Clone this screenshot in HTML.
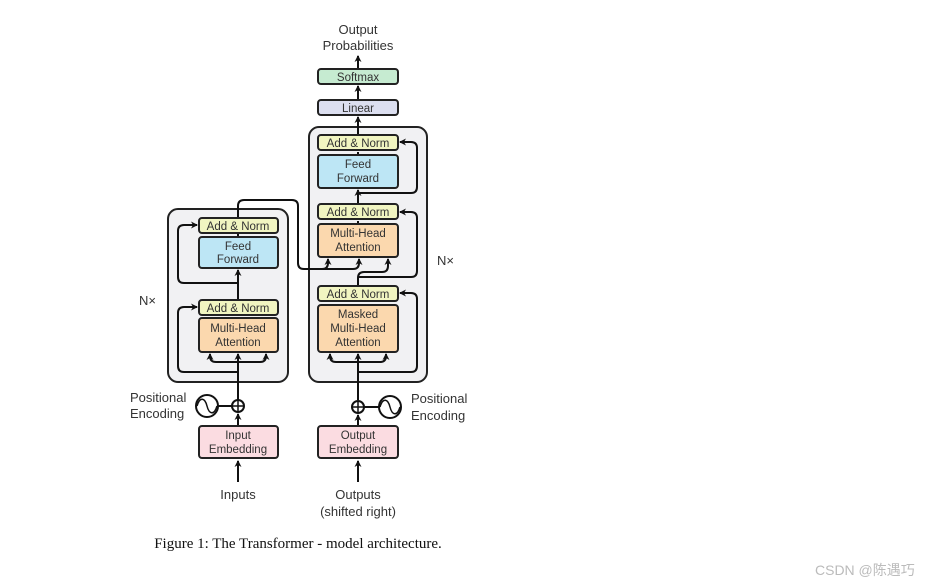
<!DOCTYPE html>
<html><head><meta charset="utf-8"><style>
body{margin:0;background:#fff;}
svg{display:block;}
text{font-family:"Liberation Sans",sans-serif;fill:#333;}
</style></head><body>
<svg width="937" height="584" viewBox="0 0 937 584" xmlns="http://www.w3.org/2000/svg">
<defs>
<marker id="a" markerWidth="8" markerHeight="8" refX="6" refY="4" orient="auto" markerUnits="userSpaceOnUse">
<path d="M0,0.5 L7,4 L0,7.5 L2,4 Z" fill="#111"/>
</marker>
</defs>
<rect width="937" height="584" fill="#fff"/>
<rect x="168" y="209" width="120" height="173" rx="10" fill="#f1f1f3" stroke="#222" stroke-width="2"/>
<rect x="309" y="127" width="118" height="255" rx="10" fill="#f1f1f3" stroke="#222" stroke-width="2"/>

<g fill="none" stroke="#111" stroke-width="2">
<line x1="238" y1="482" x2="238" y2="461" marker-end="url(#a)"/>
<line x1="238" y1="426" x2="238" y2="414" marker-end="url(#a)"/>
<line x1="238" y1="400" x2="238" y2="354" marker-end="url(#a)"/>
<line x1="238" y1="300" x2="238" y2="270" marker-end="url(#a)"/>
<line x1="238" y1="237" x2="238" y2="234"/>
<path d="M238,362 H216 Q210,362 210,356 V354" marker-end="url(#a)"/>
<path d="M238,362 H260 Q266,362 266,356 V354" marker-end="url(#a)"/>
<path d="M238,372 H184 Q178,372 178,366 V313 Q178,307 184,307 H197" marker-end="url(#a)"/>
<path d="M238,283 H184 Q178,283 178,277 V231 Q178,225 184,225 H197" marker-end="url(#a)"/>
<path d="M238,218 V206 Q238,200 244,200 H292 Q298,200 298,206 V263 Q298,269 304,269 H353 Q359,269 359,263 V259" marker-end="url(#a)"/>
<path d="M322,269 Q328,269 328,263 V259" marker-end="url(#a)"/>
<line x1="358" y1="482" x2="358" y2="461" marker-end="url(#a)"/>
<line x1="358" y1="426" x2="358" y2="415" marker-end="url(#a)"/>
<line x1="358" y1="400" x2="358" y2="354" marker-end="url(#a)"/>
<path d="M358,286 V278 Q358,272 364,272 H382 Q388,272 388,266 V259" marker-end="url(#a)"/>
<line x1="358" y1="204" x2="358" y2="190" marker-end="url(#a)"/>
<line x1="358" y1="135" x2="358" y2="117" marker-end="url(#a)"/>
<line x1="358" y1="100" x2="358" y2="86" marker-end="url(#a)"/>
<line x1="358" y1="69" x2="358" y2="56" marker-end="url(#a)"/>
<line x1="358" y1="224" x2="358" y2="221"/>
<line x1="358" y1="155" x2="358" y2="152"/>
<path d="M358,362 H336 Q330,362 330,356 V354" marker-end="url(#a)"/>
<path d="M358,362 H380 Q386,362 386,356 V354" marker-end="url(#a)"/>
<path d="M358,372 H411 Q417,372 417,366 V299 Q417,293 411,293 H400" marker-end="url(#a)"/>
<path d="M358,277 H411 Q417,277 417,271 V218 Q417,212 411,212 H400" marker-end="url(#a)"/>
<path d="M358,193 H411 Q417,193 417,187 V148 Q417,142 411,142 H400" marker-end="url(#a)"/>
<line x1="218" y1="406" x2="232" y2="406"/>
<line x1="364" y1="407" x2="379" y2="407"/>
</g>
<g fill="#fff" stroke="#111" stroke-width="2">
<circle cx="238" cy="406" r="6"/>
<circle cx="358" cy="407" r="6"/>
<circle cx="207" cy="406" r="11"/>
<circle cx="390" cy="407" r="11"/>
</g>
<g stroke="#111" stroke-width="1.5" fill="none">
<path d="M232,406 H244 M238,400 V412 M352,407 H364 M358,401 V413"/>
<path d="M197,406 C200,396 205,398 207,406 C209,414 214,416 217,406"/>
<path d="M380,407 C383,397 388,399 390,407 C392,415 397,417 400,407"/>
</g>
<g stroke="#222" stroke-width="2">
<rect x="199" y="218" width="79" height="15" rx="3" fill="#f1f5c1"/>
<rect x="199" y="237" width="79" height="31" rx="3" fill="#bde6f5"/>
<rect x="199" y="300" width="79" height="15" rx="3" fill="#f1f5c1"/>
<rect x="199" y="318" width="79" height="34" rx="3" fill="#fbd8ae"/>
<rect x="199" y="426" width="79" height="32" rx="3" fill="#fbdce1"/>
<rect x="318" y="135" width="80" height="15" rx="3" fill="#f1f5c1"/>
<rect x="318" y="155" width="80" height="33" rx="3" fill="#bde6f5"/>
<rect x="318" y="204" width="80" height="15" rx="3" fill="#f1f5c1"/>
<rect x="318" y="224" width="80" height="33" rx="3" fill="#fbd8ae"/>
<rect x="318" y="286" width="80" height="15" rx="3" fill="#f1f5c1"/>
<rect x="318" y="305" width="80" height="47" rx="3" fill="#fbd8ae"/>
<rect x="318" y="426" width="80" height="32" rx="3" fill="#fbdce1"/>
<rect x="318" y="100" width="80" height="15" rx="3" fill="#dcdff0"/>
<rect x="318" y="69" width="80" height="15" rx="3" fill="#c6ebd1"/>
</g>
<g font-size="11.5" text-anchor="middle">
<text x="238" y="230">Add &amp; Norm</text>
<text x="238" y="250">Feed</text><text x="238" y="263">Forward</text>
<text x="238" y="312">Add &amp; Norm</text>
<text x="238" y="332">Multi-Head</text><text x="238" y="346">Attention</text>
<text x="238" y="439">Input</text><text x="238" y="453">Embedding</text>
<text x="358" y="147">Add &amp; Norm</text>
<text x="358" y="168">Feed</text><text x="358" y="182">Forward</text>
<text x="358" y="216">Add &amp; Norm</text>
<text x="358" y="237">Multi-Head</text><text x="358" y="251">Attention</text>
<text x="358" y="298">Add &amp; Norm</text>
<text x="358" y="318">Masked</text><text x="358" y="332">Multi-Head</text><text x="358" y="346">Attention</text>
<text x="358" y="439">Output</text><text x="358" y="453">Embedding</text>
<text x="358" y="112">Linear</text>
<text x="358" y="81">Softmax</text>
</g>
<g font-size="13">
<text x="358" y="34" text-anchor="middle">Output</text>
<text x="358" y="50" text-anchor="middle">Probabilities</text>
<text x="238" y="499" text-anchor="middle">Inputs</text>
<text x="358" y="499" text-anchor="middle">Outputs</text>
<text x="358" y="516" text-anchor="middle">(shifted right)</text>
<text x="130" y="402">Positional</text>
<text x="130" y="418">Encoding</text>
<text x="411" y="403">Positional</text>
<text x="411" y="420">Encoding</text>
<text x="139" y="305">N×</text>
<text x="437" y="265">N×</text>
</g>
<text x="298" y="548" text-anchor="middle" style="font-family:'Liberation Serif',serif;font-size:15px;fill:#111">Figure 1: The Transformer - model architecture.</text>
<text x="815" y="575" style="font-family:'Liberation Sans','Noto Sans CJK SC',sans-serif;font-size:14px;fill:#bbb">CSDN @陈遇巧</text>
</svg>
</body></html>
